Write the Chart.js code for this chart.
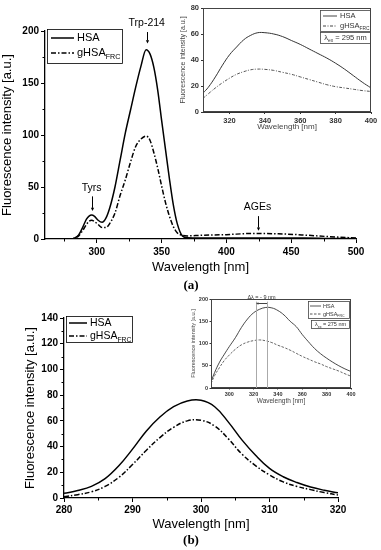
<!DOCTYPE html>
<html>
<head>
<meta charset="utf-8">
<script src="https://cdn.jsdelivr.net/npm/chart.js@4.4.1/dist/chart.umd.min.js"></script>
<style>
  body { margin: 0; background: #fff; width: 381px; height: 550px; position: relative; overflow: hidden; }
  canvas { position: absolute; }
  .lbl { position: absolute; width: 40px; text-align: center; font: bold 13px "Liberation Serif", serif; color: #000; }
</style>
</head>
<body>
<canvas id="mainA" width="381" height="282" style="left:0;top:0"></canvas>
<canvas id="insetA" width="205" height="135" style="left:176px;top:0"></canvas>
<div class="lbl" style="left:171px;top:277px">(a)</div>
<canvas id="mainB" width="381" height="245" style="left:0;top:290px"></canvas>
<canvas id="insetB" width="201" height="122" style="left:180px;top:285px"></canvas>
<div class="lbl" style="left:171px;top:532px">(b)</div>
<script>
// panel (a), excitation 280 nm
const wavelengthA = [260, 275, 280, 283, 286, 289, 292, 294, 296, 298, 301, 304, 307, 310, 314, 318, 322, 326, 330, 334, 338, 341, 344, 347, 350, 353, 356, 359, 362, 366, 370, 380, 400, 420, 440, 460, 480, 500];
const hsaA  = [0, 0, 0, 1, 4, 11, 19, 22, 23, 22, 18, 16, 20, 30, 50, 76, 102, 124, 146, 166, 182, 178, 165, 143, 114, 86, 58, 33, 15, 3, 1.2, 1, 1, 1, 1, 1, 0.6, 0.5];
const ghsaA = [0, 0, 0, 1, 3, 8, 14, 17, 18, 17, 14, 11, 11, 15, 25, 42, 57, 74, 89, 96, 99, 95, 83, 68, 51, 35, 22, 12, 6, 3.5, 3, 3.5, 4.2, 5.3, 5, 3.8, 2.2, 1];

// inset (a), excitation 295 nm
const wavelengthInsetA = [305, 308, 312, 316, 320, 324, 328, 332, 336, 340, 345, 350, 355, 360, 365, 370, 375, 380, 385, 390, 395, 400];
const hsaInsetA  = [14.5, 19, 27, 36, 44, 50, 55.5, 59, 61, 61, 60, 58, 55, 52, 48.5, 45, 41.5, 37.5, 33, 28, 23, 18.5];
const ghsaInsetA = [10.5, 14, 18.5, 22.5, 26, 29, 31, 32.5, 33, 32.8, 32, 30.5, 29, 27, 25, 23, 21, 19.5, 18.5, 17.5, 16.5, 15.8];

// panel (b)
const wavelengthB = [280, 282, 284, 286, 288, 290, 292, 294, 296, 298, 300, 302, 304, 306, 308, 310, 312, 314, 316, 318, 320];
const hsaB  = [3.6, 5.8, 9, 15, 25, 38, 52, 63, 71, 75.5, 76, 71, 59, 45, 33, 23, 16.5, 12, 8.5, 6, 4];
const ghsaB = [1, 2.6, 4.8, 9, 16, 26, 37, 47, 55, 60, 60.5, 56, 46, 34, 25, 18, 12.5, 9, 6.5, 4.2, 2.3];

// inset (b), excitation 275 nm
const wavelengthInsetB = [285, 288, 292, 296, 300, 305, 310, 315, 320, 325, 330, 335, 340, 345, 350, 355, 360, 365, 370, 375, 380, 385, 390, 395, 400];
const hsaInsetB  = [14, 35, 58, 76, 93, 113, 136, 155, 169, 177, 181, 180, 174, 164, 150, 138, 120, 104, 89, 77, 67, 58, 50, 43, 37];
const ghsaInsetB = [10, 28, 46, 62, 74, 87, 97, 103, 106.5, 108, 106, 102, 96, 91, 85, 78, 71, 65, 59, 54, 48, 43, 38, 32, 26.5];

const ticksXA = [300, 350, 400, 450, 500], ticksYA = [0, 50, 100, 150, 200];
const ticksXInA = [320, 340, 360, 380, 400], ticksYInA = [0, 20, 40, 60, 80];
const ticksXB = [280, 290, 300, 310, 320], ticksYB = [0, 20, 40, 60, 80, 100, 120, 140];
const ticksXInB = [300, 320, 340, 360, 380, 400], ticksYInB = [0, 50, 100, 150, 200];

const FONT = '"Liberation Sans", Arial, sans-serif';

function pts(xs, ys) { return xs.map((x, i) => ({ x: x, y: ys[i] })); }

function richText(ctx, x, y, parts, size, align, color) {
  ctx.fillStyle = color;
  ctx.textBaseline = 'middle';
  ctx.textAlign = 'left';
  let w = 0;
  parts.forEach(p => { ctx.font = (p[1] ? size * 0.65 : size) + 'px ' + FONT; w += ctx.measureText(p[0]).width; });
  let cx = align === 'center' ? x - w / 2 : x;
  parts.forEach(p => {
    const s = p[1] ? size * 0.65 : size;
    ctx.font = s + 'px ' + FONT;
    ctx.fillText(p[0], cx, p[1] ? y + size * 0.38 : y);
    cx += ctx.measureText(p[0]).width;
  });
}

function arrowHead(ctx, x, y, dx, dy, s) {
  // points toward (dx, dy)
  ctx.beginPath();
  ctx.moveTo(x, y);
  ctx.lineTo(x - dx * s * 1.6 - dy * s * 0.8, y - dy * s * 1.6 - dx * s * 0.8);
  ctx.lineTo(x - dx * s * 1.6 + dy * s * 0.8, y - dy * s * 1.6 + dx * s * 0.8);
  ctx.closePath();
  ctx.fill();
}

const extrasPlugin = {
  id: 'extras',
  afterDraw(chart, args, o) {
    const ctx = chart.ctx, a = chart.chartArea, xs = chart.scales.x, ys = chart.scales.y;
    ctx.save();
    ctx.strokeStyle = o.color; ctx.fillStyle = o.color; ctx.lineWidth = 1;
    if (o.frame) ctx.strokeRect(Math.round(a.left) + 0.5, Math.round(a.top) + 0.5, Math.round(a.right - a.left) - 1, Math.round(a.bottom - a.top) - 1);
    (o.minorX || []).forEach(v => {
      const px = Math.round(xs.getPixelForValue(v)) + 0.5;
      ctx.beginPath(); ctx.moveTo(px, a.bottom); ctx.lineTo(px, a.bottom + o.minorLen); ctx.stroke();
    });
    (o.minorY || []).forEach(v => {
      const py = Math.round(ys.getPixelForValue(v)) + 0.5;
      ctx.beginPath(); ctx.moveTo(a.left, py); ctx.lineTo(a.left - o.minorLen, py); ctx.stroke();
    });
    // vertical guide lines
    (o.guides || []).forEach(g => {
      ctx.strokeStyle = g.color;
      const px = Math.round(xs.getPixelForValue(g.x)) + 0.5;
      ctx.beginPath(); ctx.moveTo(px, ys.getPixelForValue(0)); ctx.lineTo(px, ys.getPixelForValue(g.top)); ctx.stroke();
    });
    ctx.strokeStyle = o.color;
    // down arrows with labels
    (o.arrows || []).forEach(r => {
      const px = Math.round(xs.getPixelForValue(r.x)) + 0.5;
      const y1 = ys.getPixelForValue(r.from), y2 = ys.getPixelForValue(r.to);
      ctx.beginPath(); ctx.moveTo(px, y1); ctx.lineTo(px, y2 - 3); ctx.stroke();
      arrowHead(ctx, px, y2, 0, 1, r.head);
      richText(ctx, xs.getPixelForValue(r.tx !== undefined ? r.tx : r.x), ys.getPixelForValue(r.label), [[r.text, false]], r.size, 'center', o.color);
    });
    // horizontal arrow (shift)
    if (o.shift) {
      const s = o.shift;
      const x1 = xs.getPixelForValue(s.from), x2 = xs.getPixelForValue(s.to), py = Math.round(ys.getPixelForValue(s.y)) + 0.5;
      ctx.strokeStyle = o.color; ctx.fillStyle = o.color;
      ctx.beginPath(); ctx.moveTo(x1, py); ctx.lineTo(x2 + 2, py); ctx.stroke();
      arrowHead(ctx, x2, py, -1, 0, 1.5);
      richText(ctx, (x1 + x2) / 2, ys.getPixelForValue(s.label), [[s.text, false]], s.size, 'center', o.textColor);
    }
    // legend
    const L = o.legend;
    if (L) {
      ctx.strokeStyle = o.color; ctx.lineWidth = 0.8;
      ctx.strokeRect(L.x + 0.5, L.y + 0.5, L.w, L.h);
      L.rows.forEach((r, i) => {
        const y = L.y + L.first + i * L.rowH;
        ctx.setLineDash(r.dash); ctx.lineWidth = r.lw; ctx.strokeStyle = o.color;
        ctx.beginPath(); ctx.moveTo(L.x + L.sx0, y); ctx.lineTo(L.x + L.sx1, y); ctx.stroke();
        ctx.setLineDash([]);
        richText(ctx, L.x + L.tx, y, r.parts, L.size, 'left', o.textColor);
      });
    }
    (o.boxes || []).forEach(b => {
      ctx.strokeStyle = o.color; ctx.lineWidth = 0.8;
      ctx.strokeRect(b.x + 0.5, b.y + 0.5, b.w, b.h);
      richText(ctx, b.x + b.w / 2 + 0.5, b.y + b.h / 2 + 0.5, b.parts, b.size, 'center', o.textColor);
    });
    ctx.restore();
  }
};

function axis(c) {
  return {
    type: 'linear', min: c.min, max: c.max,
    afterBuildTicks: s => { s.ticks = c.ticks.map(v => ({ value: v })); },
    afterFit: s => { if (s.isHorizontal()) s.height = c.size; else s.width = c.size; },
    grid: { drawOnChartArea: false, color: c.color, tickLength: c.tickLen, lineWidth: 1 },
    border: { color: c.color, width: c.bw },
    ticks: { color: c.color, autoSkip: false, maxRotation: 0, padding: c.tickPad,
             font: { family: FONT, size: c.tickSize, weight: 'bold' } },
    title: { display: true, text: c.title, color: c.titleColor || c.color, padding: c.titlePad,
             font: { family: FONT, size: c.titleSize } }
  };
}

function makeChart(id, c) {
  const curve = c.smooth === 'monotone'
    ? { cubicInterpolationMode: 'monotone' }
    : { tension: c.smooth };
  return new Chart(document.getElementById(id), {
    type: 'line',
    data: {
      datasets: [
        Object.assign({ label: 'HSA', data: pts(c.x, c.hsa), borderColor: c.color, borderWidth: c.lw,
          pointRadius: 0, fill: false }, curve),
        Object.assign({ label: 'gHSA', data: pts(c.x, c.ghsa), borderColor: c.color2 || c.color, borderWidth: c.lw,
          borderDash: c.dash, pointRadius: 0, fill: false }, curve)
      ]
    },
    options: {
      responsive: false, animation: false, devicePixelRatio: 1,
      layout: { padding: c.pad },
      plugins: { legend: { display: false }, tooltip: { enabled: false }, extras: c.extras },
      scales: { x: axis(c.xAxis), y: axis(c.yAxis) }
    },
    plugins: [extrasPlugin]
  });
}

const legendRows = (dash, lw) => [
  { parts: [['HSA', false]], dash: [], lw: lw },
  { parts: [['gHSA', false], ['FRC', true]], dash: dash, lw: lw }
];

// main (a)
makeChart('mainA', {
  x: wavelengthA, hsa: hsaA, ghsa: ghsaA, color: '#000', lw: 1.5, dash: [5, 2, 1.5, 2], smooth: 'monotone',
  pad: { left: 0, right: 25, top: 31, bottom: 0 },
  xAxis: { min: 260, max: 500, ticks: ticksXA, size: 43, color: '#000', bw: 1.3, tickLen: 4, tickPad: 3, tickSize: 10,
           title: 'Wavelength [nm]', titleSize: 13, titlePad: { top: 0, bottom: 7 } },
  yAxis: { min: 0, max: 200, ticks: ticksYA, size: 45, color: '#000', bw: 1.3, tickLen: 4, tickPad: 2, tickSize: 10,
           title: 'Fluorescence intensity [a.u.]', titleSize: 13, titlePad: { top: 0, bottom: 0 } },
  extras: {
    color: '#000', textColor: '#000', minorLen: 2.5,
    minorX: [275, 325, 375, 425, 475], minorY: [25, 75, 125, 175],
    arrows: [
      { x: 338.5, from: 199, to: 188, label: 208, text: 'Trp-214', size: 10.5, head: 2 },
      { x: 296, from: 41, to: 27, label: 49, text: 'Tyrs', size: 10.5, head: 2 },
      { x: 424, from: 22, to: 8, label: 31, text: 'AGEs', size: 10.5, head: 2 }
    ],
    legend: { x: 47, y: 29, w: 75, h: 34, first: 9, rowH: 15, sx0: 4, sx1: 27, tx: 30, size: 11,
              rows: legendRows([5, 2, 1.5, 2], 1.5) }
  }
});

// inset (a)
makeChart('insetA', {
  x: wavelengthInsetA, hsa: hsaInsetA, ghsa: ghsaInsetA, color: '#333', color2: '#555', lw: 1, dash: [3, 1.5, 1, 1.5], smooth: 0.4,
  pad: { left: 0, right: 10, top: 8, bottom: 0 },
  xAxis: { min: 305, max: 400, ticks: ticksXInA, size: 23, color: '#333', bw: 1, tickLen: 2, tickPad: 2, tickSize: 7.5,
           title: 'Wavelength [nm]', titleSize: 8, titleColor: '#444', titlePad: { top: 0, bottom: 3 } },
  yAxis: { min: 0, max: 80, ticks: ticksYInA, size: 27, color: '#333', bw: 1, tickLen: 2, tickPad: 2, tickSize: 7.5,
           title: 'Fluorescence intensity [a.u.]', titleSize: 7, titleColor: '#444', titlePad: { top: 3, bottom: 0 } },
  extras: {
    color: '#444', textColor: '#333', frame: true, minorLen: 0,
    legend: { x: 144, y: 10, w: 50, h: 21, first: 6, rowH: 10, sx0: 3, sx1: 17, tx: 20, size: 7.5,
              rows: legendRows([3, 1.5, 1, 1.5], 1) },
    boxes: [ { x: 144, y: 32, w: 50, h: 11, size: 7.5, parts: [['λ', false], ['ex', true], [' = 295 nm', false]] } ]
  }
});

// main (b)
makeChart('mainB', {
  x: wavelengthB, hsa: hsaB, ghsa: ghsaB, color: '#000', lw: 1.5, dash: [5, 2, 1.5, 2], smooth: 0.4,
  pad: { left: 0, right: 43, top: 28, bottom: 0 },
  xAxis: { min: 280, max: 320, ticks: ticksXB, size: 37, color: '#000', bw: 1.3, tickLen: 4, tickPad: 2, tickSize: 10,
           title: 'Wavelength [nm]', titleSize: 13, titlePad: { top: 0, bottom: 3 } },
  yAxis: { min: 0, max: 140, ticks: ticksYB, size: 64, color: '#000', bw: 1.3, tickLen: 4, tickPad: 2, tickSize: 10,
           title: 'Fluorescence intensity [a.u.]', titleSize: 13, titlePad: { top: 23, bottom: 0 } },
  extras: {
    color: '#000', textColor: '#000', minorLen: 2.5,
    minorX: [285, 295, 305, 315], minorY: [10, 30, 50, 70, 90, 110, 130],
    legend: { x: 66, y: 26, w: 66, h: 26, first: 7, rowH: 13, sx0: 3, sx1: 21, tx: 24, size: 10.5,
              rows: legendRows([5, 2, 1.5, 2], 1.5) }
  }
});

// inset (b)
makeChart('insetB', {
  x: wavelengthInsetB, hsa: hsaInsetB, ghsa: ghsaInsetB, color: '#333', color2: '#555', lw: 0.9, dash: [2.5, 1.5], smooth: 0.4,
  pad: { left: 0, right: 30, top: 14, bottom: 0 },
  xAxis: { min: 285, max: 400, ticks: ticksXInB, size: 19, color: '#333', bw: 1, tickLen: 1.5, tickPad: 1.5, tickSize: 5.5,
           title: 'Wavelength [nm]', titleSize: 6.5, titleColor: '#444', titlePad: { top: 0, bottom: 2 } },
  yAxis: { min: 0, max: 200, ticks: ticksYInB, size: 31, color: '#333', bw: 1, tickLen: 1.5, tickPad: 1.5, tickSize: 5.5,
           title: 'Fluorescence intensity [a.u.]', titleSize: 5.5, titleColor: '#444', titlePad: { top: 10, bottom: 0 } },
  extras: {
    color: '#444', textColor: '#333', frame: true, minorLen: 0,
    guides: [ { x: 322, top: 194, color: '#aaa' }, { x: 331, top: 194, color: '#aaa' } ],
    shift: { from: 331, to: 322, y: 190, label: 203, text: 'Δλ = - 9 nm', size: 5.5 },
    legend: { x: 128, y: 16, w: 41, h: 17, first: 5, rowH: 8, sx0: 2, sx1: 13, tx: 15, size: 5.5,
              rows: legendRows([2.5, 1.5], 0.9) },
    boxes: [ { x: 131, y: 35, w: 38, h: 8, size: 5.5, parts: [['λ', false], ['ex', true], [' = 275 nm', false]] } ]
  }
});
</script>
</body>
</html>
